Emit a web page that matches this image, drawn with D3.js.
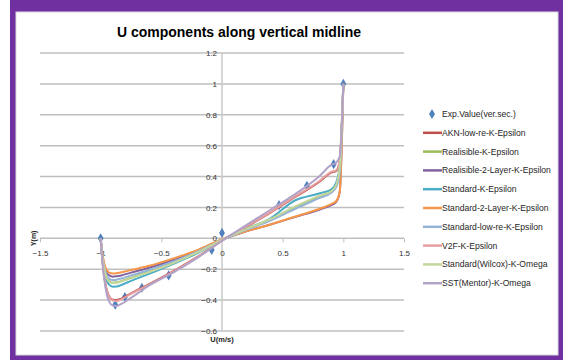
<!DOCTYPE html>
<html>
<head>
<meta charset="utf-8">
<script src="https://cdn.jsdelivr.net/npm/d3@7"></script>
<style>
  html, body { margin: 0; padding: 0; background: #fff; }
  svg { display: block; }
  text { font-family: "Liberation Sans", Arial, sans-serif; }
</style>
</head>
<body>
<svg id="chart" width="563" height="360"></svg>
<script>
// Experimental points (U, Y)
const expU = [-1, -0.88, -0.80, -0.66, -0.44, -0.085, 0, 0.47, 0.70, 0.92, 1];
const expY = [0, -0.43, -0.38, -0.32, -0.24, -0.075, 0.035, 0.215, 0.34, 0.48, 1];

// U stations shared by the simulated profiles
const simU = [-1, -0.985, -0.96, -0.93, -0.9, -0.87, -0.83, -0.75, -0.6, -0.4, -0.2, 0, 0.2, 0.4, 0.6, 0.8, 0.9, 0.94, 0.97, 1];

// Y values of each turbulence model at the U stations
const akn       = [0, -0.15, -0.297, -0.376, -0.398, -0.4, -0.39, -0.356, -0.296, -0.212, -0.119, -0.015, 0.074, 0.167, 0.266, 0.365, 0.425, 0.435, 0.5, 1];
const realK     = [0, -0.125, -0.23, -0.278, -0.287, -0.285, -0.277, -0.255, -0.215, -0.158, -0.09, -0.01, 0.058, 0.12, 0.2, 0.27, 0.3, 0.34, 0.45, 1];
const real2L    = [0, -0.11, -0.205, -0.24, -0.248, -0.246, -0.24, -0.222, -0.19, -0.14, -0.08, -0.008, 0.045, 0.09, 0.138, 0.185, 0.215, 0.235, 0.3, 1];
const stdK      = [0, -0.13, -0.245, -0.3, -0.313, -0.312, -0.302, -0.275, -0.23, -0.165, -0.095, -0.012, 0.062, 0.13, 0.245, 0.29, 0.315, 0.36, 0.47, 1];
const std2L     = [0, -0.10, -0.19, -0.222, -0.228, -0.226, -0.22, -0.205, -0.178, -0.13, -0.075, -0.005, 0.045, 0.09, 0.14, 0.19, 0.222, 0.24, 0.3, 1];
const stdLowRe  = [0, -0.12, -0.22, -0.262, -0.27, -0.268, -0.26, -0.24, -0.205, -0.15, -0.085, -0.01, 0.055, 0.115, 0.19, 0.26, 0.295, 0.33, 0.42, 1];
const v2f       = [0, -0.15, -0.30, -0.38, -0.402, -0.405, -0.395, -0.36, -0.3, -0.215, -0.12, -0.015, 0.075, 0.17, 0.27, 0.37, 0.43, 0.44, 0.5, 1];
const wilcox    = [0, -0.125, -0.232, -0.28, -0.29, -0.288, -0.28, -0.258, -0.218, -0.16, -0.09, -0.01, 0.06, 0.125, 0.205, 0.275, 0.305, 0.345, 0.46, 1];
const sst       = [0, -0.16, -0.32, -0.41, -0.435, -0.438, -0.425, -0.385, -0.305, -0.22, -0.125, -0.015, 0.085, 0.185, 0.285, 0.4, 0.475, 0.49, 0.53, 1];

const seriesNames = [
  "AKN-low-re-K-Epsilon", "Realisible-K-Epsilon", "Realisible-2-Layer-K-Epsilon",
  "Standard-K-Epsilon", "Standard-2-Layer-K-Epsilon", "Standard-low-re-K-Epsilon",
  "V2F-K-Epsilon", "Standard(Wilcox)-K-Omega", "SST(Mentor)-K-Omega"
];
const seriesValues = [akn, realK, real2L, stdK, std2L, stdLowRe, v2f, wilcox, sst];
const seriesColors = ["#c0504d", "#9bbb59", "#8064a2", "#4bacc6", "#f79646",
                      "#95b3d7", "#e6a0a0", "#c3d69b", "#b3a2c7"];
const expName = "Exp.Value(ver.sec.)";
const expColor = "#4f81bd";

const xTicks = [-1.5, -1, -0.5, 0, 0.5, 1, 1.5];
const yTicks = [1.2, 1, 0.8, 0.6, 0.4, 0.2, 0, -0.2, -0.4, -0.6];

const svg = d3.select("#chart");

// Purple frame around a white chart area
svg.append("rect").attr("x", 0).attr("y", 0).attr("width", 563).attr("height", 360).attr("fill", "#fff");
svg.append("rect").attr("x", 10).attr("y", 0).attr("width", 553).attr("height", 360).attr("fill", "#7030a0");
svg.append("rect").attr("x", 16).attr("y", 12).attr("width", 542).attr("height", 343)
  .attr("fill", "#fff").attr("stroke", "#d9d9d9").attr("stroke-width", 1);

const x = d3.scaleLinear().domain([-1.5, 1.5]).range([40, 404]);
const y = d3.scaleLinear().domain([-0.6, 1.2]).range([331, 53]);

// Title
svg.append("text").attr("x", 239).attr("y", 37).attr("text-anchor", "middle")
  .attr("font-size", 14).attr("font-weight", "bold").attr("fill", "#000")
  .attr("textLength", 244).attr("lengthAdjust", "spacingAndGlyphs")
  .text("U components along vertical midline");

// Horizontal gridlines
svg.append("g").selectAll("line").data(yTicks).join("line")
  .attr("x1", x(-1.5)).attr("x2", x(1.5))
  .attr("y1", d => y(d)).attr("y2", d => y(d))
  .attr("stroke", "#bfbfbf").attr("stroke-width", 1.5);

// Vertical axis line at U = 0
svg.append("line").attr("x1", x(0)).attr("x2", x(0)).attr("y1", y(1.2)).attr("y2", y(-0.6))
  .attr("stroke", "#c8c8c8").attr("stroke-width", 1.5);

// Y axis labels, drawn through a d3 axis placed on the U = 0 line
const yAxis = d3.axisLeft(y).tickValues(yTicks).tickSize(0).tickPadding(5)
  .tickFormat(d => d3.format("")(+d.toFixed(1)));
const gy = svg.append("g").attr("transform", `translate(${x(0)},0)`).call(yAxis);
gy.select(".domain").remove();
gy.selectAll("text").attr("font-size", 8).attr("fill", "#333")
  .attr("font-family", "Liberation Sans, Arial, sans-serif");

// X axis along Y = 0
const xAxis = d3.axisBottom(x).tickValues(xTicks).tickSize(4).tickPadding(8)
  .tickFormat(d => d3.format("")(d));
const gx = svg.append("g").attr("transform", `translate(0,${y(0)})`).call(xAxis);
gx.select(".domain").remove();
gx.selectAll("line").attr("stroke", "#bfbfbf");
gx.selectAll("text").attr("font-size", 8).attr("fill", "#333")
  .attr("font-family", "Liberation Sans, Arial, sans-serif");

// Axis titles
svg.append("text").attr("x", 222).attr("y", 342).attr("text-anchor", "middle")
  .attr("font-size", 7.5).attr("font-weight", "bold").attr("fill", "#222").text("U(m/s)");
svg.append("text").attr("transform", `translate(36,${y(0)}) rotate(-90)`).attr("text-anchor", "middle")
  .attr("font-size", 7).attr("font-weight", "bold").attr("fill", "#222").text("Y(m)");

// Experimental diamonds
const diamond = d3.symbol().type(d3.symbolDiamond).size(30);
svg.append("g").selectAll("path").data(expU.map((u, i) => [u, expY[i]])).join("path")
  .attr("d", diamond)
  .attr("transform", d => `translate(${x(d[0])},${y(d[1])})`)
  .attr("fill", expColor);

// Simulated profiles
const line = d3.line().x(d => x(d[0])).y(d => y(d[1])).curve(d3.curveMonotoneX);
svg.append("g").selectAll("path").data(seriesValues).join("path")
  .attr("d", vals => line(simU.map((u, i) => [u, vals[i]])))
  .attr("fill", "none")
  .attr("stroke", (d, i) => seriesColors[i])
  .attr("stroke-width", 2)
  .attr("stroke-linejoin", "round");

// Legend
const legendY0 = 114, legendStep = 18.8;
const lg = svg.append("g");
lg.append("path").attr("d", diamond).attr("transform", `translate(432,${legendY0})`).attr("fill", expColor);
lg.append("text").attr("x", 442).attr("y", legendY0 + 3).attr("font-size", 8.6).attr("fill", "#262626").text(expName);
seriesNames.forEach((name, i) => {
  const yy = legendY0 + legendStep * (i + 1);
  lg.append("line").attr("x1", 423).attr("x2", 442).attr("y1", yy).attr("y2", yy)
    .attr("stroke", seriesColors[i]).attr("stroke-width", 2.5);
  lg.append("text").attr("x", 442).attr("y", yy + 3).attr("font-size", 8.6).attr("fill", "#262626").text(name);
});
</script>
</body>
</html>
